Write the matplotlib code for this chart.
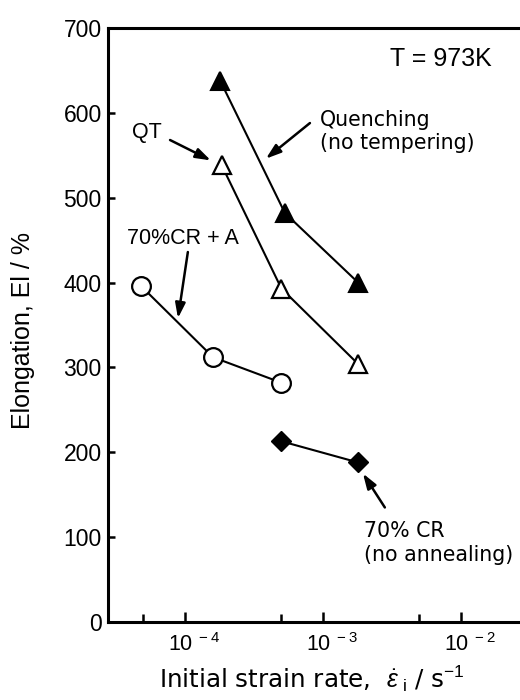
import matplotlib
matplotlib.use("Agg")
import matplotlib.pyplot as plt
from matplotlib.ticker import FixedLocator, FixedFormatter, NullFormatter
from matplotlib.transforms import ScaledTranslation

# ---- data ----
quench_x = [1.8e-4, 5.3e-4, 1.8e-3]
quench_y = [638, 482, 400]

qt_x = [1.85e-4, 5.0e-4, 1.8e-3]
qt_y = [538, 393, 304]

cra_x = [4.8e-5, 1.6e-4, 5.0e-4]
cra_y = [396, 312, 282]

cr_x = [5.0e-4, 1.8e-3]
cr_y = [213, 188]

xticks_major = [1e-4, 1e-3, 1e-2]
xtick_labels = [r'$\mathregular{10^{\ -4}}$', r'$\mathregular{10^{\ -3}}$',
                r'$\mathregular{10^{\ -2}}$']
xticks_minor = [5e-5, 5e-4, 5e-3]
yticks = [0, 100, 200, 300, 400, 500, 600, 700]

plt.rcParams['mathtext.fontset'] = 'custom'
plt.rcParams['mathtext.rm'] = 'Liberation Sans'
plt.rcParams['mathtext.it'] = 'Liberation Sans:italic'
plt.rcParams['mathtext.bf'] = 'Liberation Sans:bold'
plt.rcParams['font.family'] = ['Liberation Sans', 'DejaVu Sans']

fig = plt.figure(figsize=(5.2, 7.0), dpi=100)
ax = fig.add_axes([0.2077, 0.1114, 0.7923, 0.8486])

lw = 1.5
ax.plot(quench_x, quench_y, '-', color='black', lw=lw, marker='^', ms=13,
        mfc='black', mec='black', mew=1.5, zorder=3)
ax.plot(qt_x, qt_y, '-', color='black', lw=lw, marker='^', ms=13,
        mfc='white', mec='black', mew=1.6, zorder=3)
ax.plot(cra_x, cra_y, '-', color='black', lw=lw, marker='o', ms=13.5,
        mfc='white', mec='black', mew=1.6, zorder=3)
ax.plot(cr_x, cr_y, '-', color='black', lw=lw, marker='D', ms=10.5,
        mfc='black', mec='black', mew=1.0, zorder=3)

ax.set_xscale('log')
ax.set_xlim(2.77e-5, 2.68e-2)
ax.set_ylim(0, 700)

ax.xaxis.set_major_locator(FixedLocator(xticks_major))
ax.xaxis.set_major_formatter(FixedFormatter(xtick_labels))
ax.xaxis.set_minor_locator(FixedLocator(xticks_minor))
ax.xaxis.set_minor_formatter(NullFormatter())
ax.yaxis.set_major_locator(FixedLocator(yticks))
ax.yaxis.set_minor_locator(FixedLocator([]))

for s in ['left', 'bottom', 'top']:
    ax.spines[s].set_linewidth(2.2)
ax.spines['right'].set_visible(False)

ax.tick_params(axis='x', which='major', direction='in', length=7, width=1.8,
               pad=8, labelsize=15.5, top=False)
ax.tick_params(axis='x', which='minor', direction='in', length=6, width=1.8, top=False)
ax.tick_params(axis='y', which='major', direction='in', length=5, width=1.8,
               pad=4.5, labelsize=16.5, right=False)
shift = ScaledTranslation(9 / 100, 0, fig.dpi_scale_trans)
for lab in ax.get_xticklabels():
    lab.set_transform(lab.get_transform() + shift)

ax.set_ylabel('Elongation, El / %', fontsize=18)
ax.yaxis.set_label_coords(-0.177, 0.49)

gothic = ['DejaVu Sans']
ax.set_xlabel(r'Initial strain rate,  $\dot{\varepsilon}_{\ \mathrm{i}}$ / s$^{-1}$',
              fontsize=17.7, family=gothic)
ax.xaxis.set_label_coords(0.494, -0.069)

afont = dict(fontsize=14.8, family=gothic)
arrow = dict(arrowstyle='-|>,head_length=0.9,head_width=0.3', color='black',
             lw=1.8, shrinkA=0, shrinkB=0)

ax.text(3.06e-3, 663, 'T = 973K', fontsize=18, ha='left', va='center')

ax.text(9.5e-4, 578, 'Quenching\n(no tempering)', ha='left', va='center',
        linespacing=1.15, **afont)
ax.annotate('', xy=(3.86e-4, 546), xytext=(8.05e-4, 588), arrowprops=arrow)

ax.text(4.13e-5, 577, 'QT', ha='left', va='center', fontsize=15.5)
ax.annotate('', xy=(1.54e-4, 544), xytext=(7.8e-5, 568), arrowprops=arrow)

ax.text(3.8e-5, 452, '70%CR + A', ha='left', va='center', fontsize=15.5)
ax.annotate('', xy=(8.9e-5, 358), xytext=(1.05e-4, 436), arrowprops=arrow)

ax.text(2.0e-3, 93, '70% CR\n(no annealing)', ha='left', va='center',
        linespacing=1.28, **afont)
ax.annotate('', xy=(1.95e-3, 175), xytext=(2.81e-3, 135), arrowprops=arrow)

fig.savefig('out.png', dpi=100)
